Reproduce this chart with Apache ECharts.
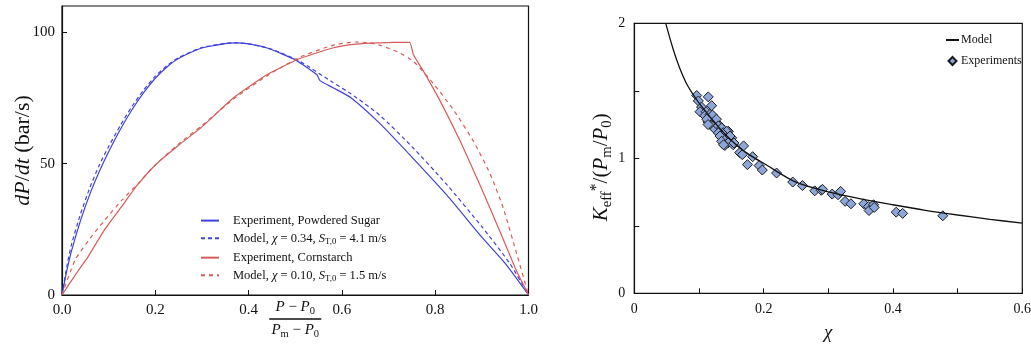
<!DOCTYPE html>
<html>
<head>
<meta charset="utf-8">
<script src="https://cdn.jsdelivr.net/npm/echarts@6/dist/echarts.min.js"></script>
<style>
  html, body { margin: 0; background: #fff; }
  #chart { width: 1031px; height: 352px; }
</style>
</head>
<body>
<div id="chart"></div>
<script>
// left panel: dP/dt against normalised pressure, [x, dP/dt]
const powderExp = [[0,0],[0.01,9],[0.02,16.5],[0.04,28.5],[0.06,38.5],[0.08,47],[0.1,54.5],[0.125,63],[0.15,70.5],[0.175,77],[0.2,82.5],[0.225,86.8],[0.25,90],[0.3,94],[0.35,95.7],[0.37,96],[0.4,95.6],[0.44,94],[0.5,89.5],[0.546,83.9],[0.553,81.6],[0.58,79],[0.62,75],[0.68,65.5],[0.75,52.5],[0.825,38],[0.9,22],[0.95,12],[1,0]]
const powderModel = [[0,0],[0.01,10.5],[0.02,19],[0.04,31],[0.06,41],[0.08,49.5],[0.1,56.5],[0.125,64.5],[0.15,71.8],[0.175,78],[0.2,83.3],[0.225,87.3],[0.25,90.4],[0.3,94.2],[0.35,95.8],[0.37,96],[0.4,95.6],[0.45,93.5],[0.51,88.9],[0.58,81],[0.62,76.5],[0.68,68.6],[0.75,56.5],[0.825,42],[0.9,26],[0.96,12],[1,0]]
const starchExp = [[0,0],[0.028,7.5],[0.056,14.6],[0.09,24.5],[0.128,33.7],[0.16,41.5],[0.2,49.5],[0.25,57],[0.3,64],[0.367,75],[0.44,83.9],[0.51,90],[0.58,94],[0.63,95.5],[0.68,96],[0.745,96.2],[0.753,91.5],[0.775,85.1],[0.811,73.7],[0.854,58.4],[0.896,41.9],[0.939,24.1],[0.975,8.9],[1,0]]
const starchModel = [[0,0],[0.028,13.3],[0.06,21.5],[0.092,28.6],[0.128,36],[0.164,42.6],[0.2,49.5],[0.25,57.5],[0.3,64.5],[0.367,74.5],[0.44,83.5],[0.51,90.5],[0.58,95],[0.63,96.3],[0.66,96],[0.682,95],[0.72,92.5],[0.753,89],[0.796,80.5],[0.839,70.5],[0.882,58.5],[0.918,46],[0.946,33],[0.975,15.5],[1,0]]

// right panel: Keff*/(Pm/P0) against chi
const modelChi = [0.0486,0.06,0.07,0.08,0.09,0.1,0.12,0.14,0.16,0.18,0.2,0.25,0.3,0.35,0.4,0.45,0.5,0.55,0.6]
const modelK = [2.0,1.81,1.67,1.56,1.48,1.41,1.29,1.18,1.09,1.02,0.963,0.823,0.752,0.7,0.656,0.615,0.58,0.548,0.52]
const experiments = [[0.0965,1.465],[0.099,1.425],[0.1144,1.455],[0.104,1.38],[0.1196,1.39],[0.1016,1.345],[0.111,1.345],[0.109,1.315],[0.117,1.325],[0.121,1.32],[0.127,1.29],[0.114,1.27],[0.112,1.29],[0.1196,1.24],[0.114,1.25],[0.1325,1.24],[0.1248,1.215],[0.13,1.24],[0.135,1.225],[0.1376,1.19],[0.1454,1.2],[0.143,1.2],[0.13,1.188],[0.138,1.176],[0.1325,1.165],[0.143,1.151],[0.1506,1.151],[0.148,1.165],[0.135,1.126],[0.145,1.114],[0.14,1.095],[0.138,1.1],[0.153,1.1],[0.154,1.114],[0.169,1.092],[0.163,1.042],[0.167,1.027],[0.183,1.012],[0.175,0.953],[0.193,0.946],[0.198,0.913],[0.22,0.891],[0.245,0.824],[0.26,0.798],[0.279,0.759],[0.289,0.763],[0.291,0.77],[0.306,0.735],[0.315,0.73],[0.319,0.755],[0.326,0.681],[0.335,0.663],[0.355,0.663],[0.362,0.642],[0.363,0.613],[0.37,0.656],[0.371,0.636],[0.405,0.601],[0.415,0.592],[0.477,0.574]]

const legendLabels = {
  'Experiment, Powdered Sugar': '{n|Experiment, Powdered Sugar}',
  'Model, powder': '{n|Model, }{i|χ}{n| = 0.34, }{i|S}{sub|T,0}{n| = 4.1 m/s}',
  'Experiment, Cornstarch': '{n|Experiment, Cornstarch}',
  'Model, cornstarch': '{n|Model, }{i|χ}{n| = 0.10, }{i|S}{sub|T,0}{n| = 1.5 m/s}',
}

const serif = 'Liberation Serif, DejaVu Serif, serif'
const ink = '#111'
const blue = '#4141dc'
const red = '#d65c5a'

const mathStyles = (size) => ({
  n: { fontFamily: serif, fontSize: size, color: ink, lineHeight: size + 4, verticalAlign: 'middle' },
  i: { fontFamily: serif, fontSize: size, fontStyle: 'italic', color: ink, lineHeight: size + 4, verticalAlign: 'middle' },
  sub: { fontFamily: serif, fontSize: size * 0.7, color: ink, lineHeight: size * 0.7, verticalAlign: 'bottom' },
  sup: { fontFamily: serif, fontSize: size * 0.75, color: ink, lineHeight: size * 0.75, verticalAlign: 'top' },
})

const axisCommon = {
  axisLine: { lineStyle: { color: ink, width: 1.2 } },
  axisTick: { inside: true, length: 5, lineStyle: { color: ink } },
  splitLine: { show: false },
  nameMoveOverlap: false,
}

const chart = echarts.init(document.getElementById('chart'))
chart.setOption({
  animation: false,
  backgroundColor: '#fff',
  textStyle: { fontFamily: serif, color: ink },
  grid: [
    { left: 62, right: 502.5, top: 6, bottom: 57, outerBoundsMode: 'none', show: true, borderColor: ink, borderWidth: 1.2 },
    { left: 634.3, right: 8.7, top: 23.3, bottom: 58.7, outerBoundsMode: 'none', show: true, borderColor: ink, borderWidth: 1.2 },
  ],
  legend: [
    {
      orient: 'vertical', left: 200, top: 214, padding: 0, itemGap: 4.5, itemWidth: 18, itemHeight: 14,
      itemStyle: { opacity: 0 },
      data: ['Experiment, Powdered Sugar', 'Model, powder', 'Experiment, Cornstarch', 'Model, cornstarch'],
      formatter: (name) => legendLabels[name],
      textStyle: { padding: [0, 0, 0, 9], rich: mathStyles(12.5) },
    },
    {
      orient: 'vertical', left: 945, top: 34, padding: 0, itemGap: 9, itemWidth: 13, itemHeight: 8,
      data: [
        { name: 'Model', itemStyle: { opacity: 0 } },
        { name: 'Experiments', icon: 'path://M0,-1L1,0L0,1L-1,0Z' },
      ],
      textStyle: { fontFamily: serif, fontSize: 12, color: ink, padding: [0, 0, 0, -3] },
    },
  ],
  xAxis: [
    {
      gridIndex: 0, type: 'value', min: 0, max: 1, interval: 0.2, ...axisCommon,
      axisLabel: { fontSize: 15, color: ink, margin: 8, formatter: (v) => v.toFixed(1) },
      name: '{i|P}{n| − }{i|P}{sub|0}\n{bar| }\n{i|P}{sub|m}{n| − }{i|P}{sub|0}',
      nameLocation: 'middle', nameGap: 3,
      nameTextStyle: { rich: { ...mathStyles(15), bar: { width: 52, height: 1.4, lineHeight: 4, fontSize: 1, backgroundColor: ink } } },
    },
    {
      gridIndex: 1, type: 'value', min: 0, max: 0.6, interval: 0.1, ...axisCommon,
      axisLabel: { fontSize: 14, color: ink, margin: 9, formatter: (v) => (Math.round(v * 10) % 2 === 0 ? (v === 0 ? '0' : v.toFixed(1)) : '') },
      name: 'χ', nameLocation: 'middle', nameGap: 30,
      nameTextStyle: { fontSize: 19, fontStyle: 'italic', color: ink },
    },
  ],
  yAxis: [
    {
      gridIndex: 0, type: 'value', min: 0, max: 110, interval: 50, ...axisCommon,
      axisLabel: { fontSize: 15, color: ink, margin: 7, showMaxLabel: false },
      name: '{i|dP}{n|/}{i|dt}{n| (bar/s)}', nameLocation: 'middle', nameRotate: 90, nameGap: 26,
      nameTextStyle: { rich: mathStyles(22) },
    },
    {
      gridIndex: 1, type: 'value', min: 0, max: 2, interval: 0.5, ...axisCommon,
      axisLabel: { fontSize: 14, color: ink, margin: 9, formatter: (v) => (v % 1 === 0 ? String(v) : '') },
      name: '{i|K}{sub|eff}{sup|*}{n|/(}{i|P}{sub|m}{n|/}{i|P}{sub|0}{n|)}', nameLocation: 'middle', nameRotate: 90, nameGap: 20,
      nameTextStyle: { padding: [0, 18, 0, 0], rich: mathStyles(21) },
    },
  ],
  series: [
    { name: 'Experiment, Powdered Sugar', type: 'line', xAxisIndex: 0, yAxisIndex: 0, data: powderExp, showSymbol: false, smooth: 0.2, color: blue, lineStyle: { width: 1.2, color: blue } },
    { name: 'Model, powder', type: 'line', xAxisIndex: 0, yAxisIndex: 0, data: powderModel, showSymbol: false, smooth: 0.2, color: blue, lineStyle: { width: 1.2, color: blue, type: [4, 3] } },
    { name: 'Experiment, Cornstarch', type: 'line', xAxisIndex: 0, yAxisIndex: 0, data: starchExp, showSymbol: false, smooth: 0.15, color: red, lineStyle: { width: 1.2, color: red } },
    { name: 'Model, cornstarch', type: 'line', xAxisIndex: 0, yAxisIndex: 0, data: starchModel, showSymbol: false, smooth: 0.2, color: red, lineStyle: { width: 1.2, color: red, type: [4, 4] } },
    {
      name: 'Model', type: 'line', xAxisIndex: 1, yAxisIndex: 1, showSymbol: false, smooth: 0.3,
      data: modelChi.map((c, i) => [c, modelK[i]]), color: ink, lineStyle: { width: 1.3, color: ink },
    },
    {
      name: 'Experiments', type: 'scatter', xAxisIndex: 1, yAxisIndex: 1, data: experiments,
      symbol: 'diamond', symbolSize: 10,
      itemStyle: { color: '#8ca6da', borderColor: '#1c1c1c', borderWidth: 1, opacity: 1 },
    },
  ],
})
</script>
</body>
</html>
